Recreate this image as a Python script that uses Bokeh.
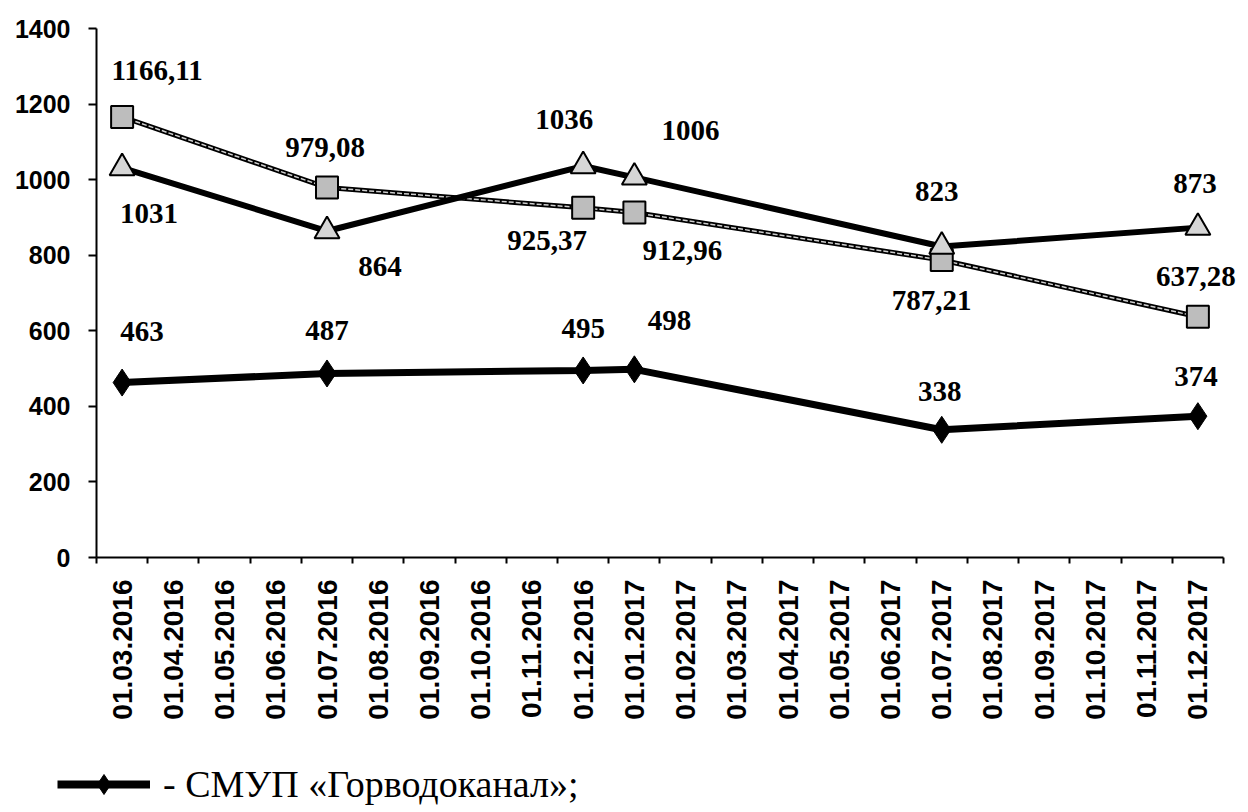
import math
from bokeh.plotting import figure
from bokeh.layouts import column
from bokeh.models import Range1d, FixedTicker, Legend, LegendItem, ColumnDataSource
from bokeh.core.properties import value
from bokeh.embed import file_html
from bokeh.resources import INLINE

# ---------------- data ----------------
months = ["01.03.2016", "01.04.2016", "01.05.2016", "01.06.2016", "01.07.2016",
          "01.08.2016", "01.09.2016", "01.10.2016", "01.11.2016", "01.12.2016",
          "01.01.2017", "01.02.2017", "01.03.2017", "01.04.2017", "01.05.2017",
          "01.06.2017", "01.07.2017", "01.08.2017", "01.09.2017", "01.10.2017",
          "01.11.2017", "01.12.2017"]
dates = ["01.03.2016", "01.07.2016", "01.12.2016", "01.01.2017", "01.07.2017", "01.12.2017"]
gorvodokanal = [463, 487, 495, 498, 338, 374]
square_series = [1166.11, 979.08, 925.37, 912.96, 787.21, 637.28]
triangle_series = [1031, 864, 1036, 1006, 823, 873]
y_ticks = [0, 200, 400, 600, 800, 1000, 1200, 1400]
legend_label = "- СМУП «Горводоканал»;"

# label offsets in screen pixels (style only)
sq_off = [(35, -46), (-2, -40), (-36, 33), (48, 38), (-10, 40), (-2, -40)]
tr_off = [(27, 46), (53, 35), (-19, -47), (56, -47), (-5, -55), (-3, -44)]
di_off = [(20, -51), (0, -43), (0, -42), (35, -49), (-2, -38), (-2, -40)]

xs = [months.index(d) + 0.5 for d in dates]
n = len(months)


def fmt2(v):
    return f"{v:.2f}".replace(".", ",")


def fmt0(v):
    return f"{v:.0f}"


BAND = 1127 / n  # px per month
X_END = n + 0.41
FW = int(round(BAND * X_END))

p = figure(frame_width=FW, frame_height=529,
           x_range=Range1d(0, X_END), y_range=Range1d(0, 1400),
           output_backend="svg", toolbar_location=None,
           min_border_left=96, min_border_top=28, min_border_right=2,
           min_border_bottom=170)
p.frame_align = False
p.outline_line_color = None
p.xgrid.visible = False
p.ygrid.visible = False
p.background_fill_color = "white"

# x axis: labels at centers, tick marks at boundaries
xa = p.xaxis[0]
xa.bounds = (0, n)
xa.ticker = FixedTicker(ticks=[i + 0.5 for i in range(n)],
                        minor_ticks=list(range(n + 1)))
xa.major_label_overrides = {i + 0.5: m for i, m in enumerate(months)}
xa.major_label_orientation = math.pi / 2
xa.major_tick_out = 0
xa.major_tick_in = 0
xa.minor_tick_out = 6
xa.minor_tick_in = 0
xa.minor_tick_line_color = "black"
xa.minor_tick_line_width = 2
xa.axis_line_width = 2
xa.axis_line_color = "black"
xa.major_label_text_font = "Liberation Sans"
xa.major_label_text_font_style = "bold"
xa.major_label_text_font_size = "28px"
xa.major_label_text_color = "black"
xa.major_label_standoff = 16

ya = p.yaxis[0]
ya.ticker = FixedTicker(ticks=y_ticks)
ya.major_tick_out = 8
ya.major_tick_in = 0
ya.major_tick_line_width = 2
ya.major_tick_line_color = "black"
ya.minor_tick_line_color = None
ya.axis_line_width = 2
ya.axis_line_color = "black"
ya.major_label_text_font = "Liberation Sans"
ya.major_label_text_font_style = "bold"
ya.major_label_text_font_size = "25px"
ya.major_label_text_color = "black"
ya.major_label_standoff = 18

# square series
src_sq = ColumnDataSource(dict(x=xs, y=square_series,
                               t=[fmt2(v) for v in square_series],
                               dx=[o[0] for o in sq_off], dy=[o[1] for o in sq_off]))
p.line("x", "y", source=src_sq, line_color="black", line_width=5)
p.line("x", "y", source=src_sq, line_color="#cfcfcf", line_width=1.5, line_dash="5 2")
p.scatter("x", "y", source=src_sq, marker="square", size=22,
          fill_color="#bdbdbd", line_color="black", line_width=2)

# triangle series
src_tr = ColumnDataSource(dict(x=xs, y=triangle_series,
                               t=[fmt0(v) for v in triangle_series],
                               dx=[o[0] for o in tr_off], dy=[o[1] for o in tr_off]))
p.line("x", "y", source=src_tr, line_color="black", line_width=6)
p.scatter("x", "y", source=src_tr, marker="triangle", size=25,
          fill_color="#d6d6d6", line_color="black", line_width=2)

# diamond series
src_di = ColumnDataSource(dict(x=xs, y=gorvodokanal,
                               t=[fmt0(v) for v in gorvodokanal],
                               dx=[o[0] for o in di_off], dy=[o[1] for o in di_off]))
p.line("x", "y", source=src_di, line_color="black", line_width=7)
p.scatter("x", "y", source=src_di, marker="diamond", size=27,
          fill_color="black", line_color="black", line_width=1)

for src in (src_sq, src_tr, src_di):
    p.text("x", "y", text="t", source=src, x_offset="dx", y_offset="dy",
           text_font=value("Liberation Serif"), text_font_style="bold",
           text_font_size="29px", text_align="center", text_baseline="middle",
           text_color="black")

# ---------------- legend strip ----------------
p2 = figure(width=FW + 96 + 2, height=82,
            x_range=Range1d(0, n), y_range=Range1d(-2, -1),
            output_backend="svg", toolbar_location=None,
            x_axis_type=None, y_axis_type=None,
            min_border_left=0, min_border_right=0, min_border_top=0, min_border_bottom=0)
p2.frame_align = False
p2.outline_line_color = None
p2.xgrid.visible = False
p2.ygrid.visible = False
lg_line = p2.line("x", "y", source=src_di, line_color="black", line_width=8)
lg_scat = p2.scatter("x", "y", source=src_di, marker="diamond", size=27,
                     fill_color="black", line_color="black", line_width=1)
legend = Legend(items=[LegendItem(label=legend_label, renderers=[lg_line, lg_scat])],
                location=(57, 0), orientation="horizontal",
                label_text_font="Liberation Serif", label_text_font_size="38px",
                label_text_color="black", label_text_baseline="middle",
                glyph_width=93, glyph_height=50, label_standoff=13, label_height=50,
                border_line_color=None, background_fill_alpha=0,
                padding=0, margin=0)
p2.add_layout(legend, "center")

open("out.html", "w").write(file_html(column(p, p2), INLINE))
